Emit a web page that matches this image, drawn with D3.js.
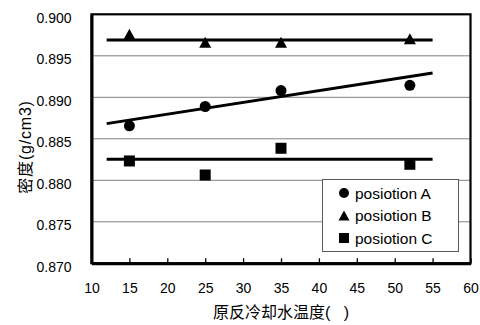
<!DOCTYPE html>
<html>
<head>
<meta charset="utf-8">
<script src="https://cdn.jsdelivr.net/npm/d3@7"></script>
<style>
  body { margin: 0; background: #fff; }
  text { font-family: "Liberation Sans", Arial, "Noto Sans CJK SC", sans-serif; fill: #000; }
</style>
</head>
<body>
<svg id="chart" width="480" height="325"></svg>
<script>
(function () {
    "use strict";

    // data
    var temps = [15, 25, 35, 52];
    var posA = [0.88657, 0.88889, 0.89081, 0.89145];
    var posB = [0.89759, 0.89663, 0.89663, 0.89705];
    var posC = [0.88233, 0.88064, 0.88386, 0.88193];
    // fitted lines as drawn in the picture (start / end)
    var fitX = [12, 55];
    var fitA = [0.88683, 0.89293];
    var fitB = [0.89690, 0.89690];
    var fitC = [0.88253, 0.88253];
    var names = ["posiotion A", "posiotion B", "posiotion C"];
    var shapes = ["circle", "triangle", "square"];
    var xTicks = [10, 15, 20, 25, 30, 35, 40, 45, 50, 55, 60];
    var yTicks = [0.870, 0.875, 0.880, 0.885, 0.890, 0.895, 0.900];

    var series = [
        { name: names[0], shape: shapes[0], vals: posA, fit: fitA },
        { name: names[1], shape: shapes[1], vals: posB, fit: fitB },
        { name: names[2], shape: shapes[2], vals: posC, fit: fitC }
    ];

    var plot = { left: 91.5, right: 470.5, top: 14.3, bottom: 263.3 };
    var x = d3.scaleLinear().domain([10, 60]).range([plot.left, plot.right]);
    var y = d3.scaleLinear().domain([0.870, 0.900]).range([plot.bottom, plot.top]);

    var svg = d3.select("#chart");

    // gridlines
    svg.append("g").selectAll("line").data(yTicks.slice(1, -1)).enter().append("line")
        .attr("x1", plot.left).attr("x2", plot.right)
        .attr("y1", function (d) { return y(d); }).attr("y2", function (d) { return y(d); })
        .attr("stroke", "#808080").attr("stroke-width", 1);

    // frame
    svg.append("rect")
        .attr("x", plot.left).attr("y", plot.top)
        .attr("width", plot.right - plot.left).attr("height", plot.bottom - plot.top)
        .attr("fill", "none").attr("stroke", "#000").attr("stroke-width", 2.2);

    var xaxis = d3.axisBottom(x).tickValues(xTicks).tickFormat(d3.format("d"))
        .tickSizeInner(-5).tickSizeOuter(0).tickPadding(20);
    var gx = svg.append("g").attr("transform", "translate(0," + plot.bottom + ")").call(xaxis);
    gx.select(".domain").attr("stroke-width", 3);
    gx.selectAll(".tick line").attr("stroke-width", 1.3);
    gx.selectAll("text").style("font-size", "14px").attr("fill", "#000");

    var yaxis = d3.axisLeft(y).tickValues(yTicks).tickFormat(d3.format(".3f"))
        .tickSize(0).tickPadding(20);
    var gy = svg.append("g").attr("transform", "translate(" + plot.left + ",0)").call(yaxis);
    gy.select(".domain").attr("stroke-width", 3);
    gy.selectAll("text").style("font-size", "14px").attr("dy", "0.55em").attr("fill", "#000");

    // fitted lines
    var line = d3.line()
        .x(function (d, i) { return x(fitX[i]); })
        .y(function (d) { return y(d); });
    svg.append("g").selectAll("path").data(series).enter().append("path")
        .attr("d", function (s) { return line(s.fit); })
        .attr("fill", "none").attr("stroke", "#000").attr("stroke-width", 3);

    function marker(sel, shape, size) {
        var h = size / 2;
        if (shape === "circle") {
            sel.append("circle").attr("r", h).attr("fill", "#000");
        } else if (shape === "square") {
            sel.append("rect").attr("x", -h).attr("y", -h)
                .attr("width", size).attr("height", size).attr("fill", "#000");
        } else {
            sel.append("path").attr("d", "M0," + (-h) + "L" + (h + 0.5) + "," + h + "L" + (-h - 0.5) + "," + h + "Z")
                .attr("fill", "#000");
        }
    }

    series.forEach(function (s) {
        var g = svg.append("g");
        s.vals.forEach(function (v, i) {
            var m = g.append("g").attr("transform", "translate(" + x(temps[i]) + "," + y(v) + ")");
            marker(m, s.shape, 11);
        });
    });

    // legend
    var leg = svg.append("g").attr("transform", "translate(322,179)");
    leg.append("rect").attr("x", 0.5).attr("y", 0.5).attr("width", 136).attr("height", 72)
        .attr("fill", "#fff").attr("stroke", "#595959").attr("stroke-width", 1);
    series.forEach(function (s, i) {
        var row = leg.append("g").attr("transform", "translate(22," + (14 + i * 22.5) + ")");
        marker(row, s.shape, 10);
        row.append("text").attr("x", 11).attr("y", 5.5)
            .style("font-size", "15.5px").text(s.name);
    });

    // titles
    svg.append("text")
        .attr("x", (plot.left + plot.right) / 2).attr("y", 318)
        .attr("text-anchor", "middle").style("font-size", "16px")
        .style("white-space", "pre").attr("xml:space", "preserve")
        .text("原反冷却水温度(   )");
    svg.append("text")
        .attr("transform", "translate(31,147) rotate(-90)")
        .attr("text-anchor", "middle").style("font-size", "16px")
        .style("letter-spacing", "0.8px")
        .text("密度(g/cm3)");
})();
</script>
</body>
</html>
